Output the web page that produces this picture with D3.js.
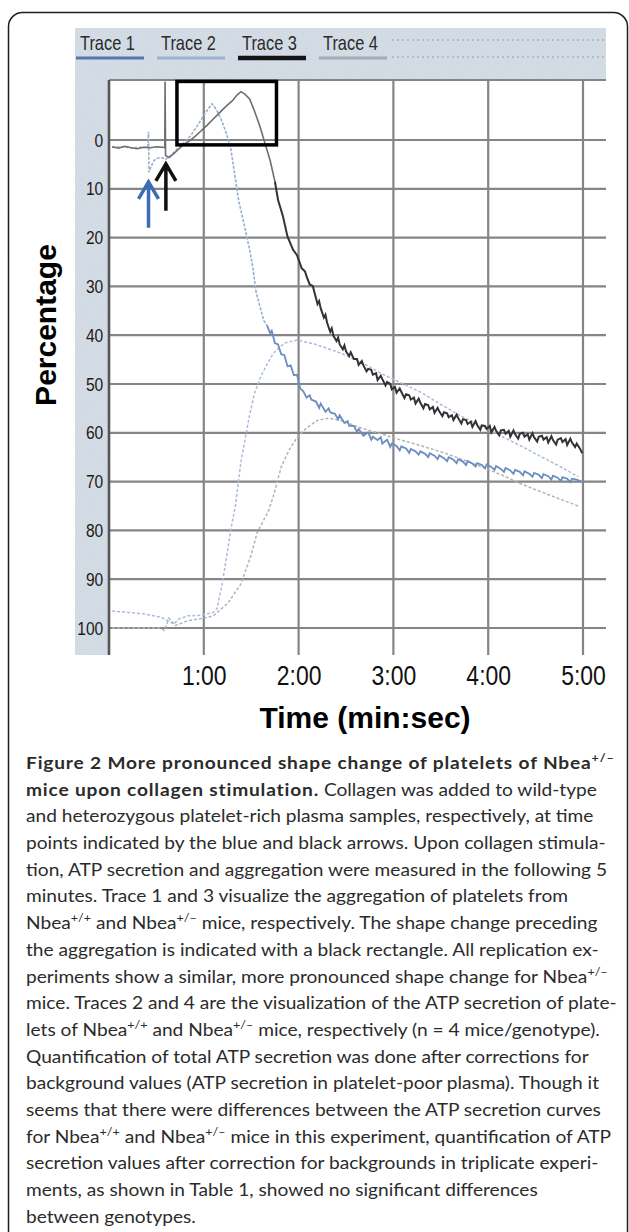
<!DOCTYPE html>
<html>
<head>
<meta charset="utf-8">
<script src="https://cdn.jsdelivr.net/npm/d3@7"></script>
<style>
  body { margin: 0; background: #fff; }
  svg { display: block; }
</style>
</head>
<body>
<div id="fig"></div>
<script>
// values: time in seconds, percentage (0 at top, 100 at bottom)
var traceNames = ["Trace 1", "Trace 2", "Trace 3", "Trace 4"];
var yTicks = [0, 10, 20, 30, 40, 50, 60, 70, 80, 90, 100];
var xTicks = [60, 120, 180, 240, 300];
var xTickLabels = ["1:00", "2:00", "3:00", "4:00", "5:00"];

// Trace 1: aggregation Nbea+/+
var trace1 = [[2,1.5],[8,1.4],[14,1.6],[20,1.5],[24.6,1.5],[25,-1.7],[25.3,6.6],[26.5,5.6],[28,4.4],[30,3.8],[33,3.6],[36,3.9],[39,3.2],[42,2.2],[45,1.2],[48,0.4],[52,-1.0],[56,-3.0],[60,-5.0],[63,-6.5],[65.3,-7.4],[68,-6.2],[71,-4.2],[74,-1.6],[77,1.6],[80,8],[82,12.3],[86,18],[89,22.5],[91,26],[93,31],[95,33.5],[98,37],[100,38],[102,39.6],[103,39.1],[105,41.6],[107,41.9],[109,43.9],[111,44.1],[113,46.4],[115,46.2],[117,48.2],[119,48.1],[120,49.6],[121,50.9],[123,51.5],[125,52.8],[127,52.3],[128,53.2],[131,53.6],[133,54.9],[134,54.0],[137,55.7],[139,55.0],[140,55.8],[143,56.1],[145,57.2],[146,56.4],[149,58.0],[151,57.6],[152,58.6],[155,58.6],[157,59.8],[158,59.2],[161,60.6],[164,59.9],[166,61.4],[167,60.8],[170,61.5],[172,60.9],[173,62.2],[176,61.4],[178,62.9],[179,62.2],[182,62.7],[184,63.6],[185,62.8],[188,63.2],[190,64.1],[191,63.3],[194,63.8],[196,64.5],[197,63.8],[200,64.3],[202,65.0],[203,64.2],[206,64.7],[208,65.4],[209,64.6],[212,65.2],[214,65.8],[215,65.0],[218,65.5],[220,66.2],[221,65.4],[224,65.9],[226,66.6],[227,65.8],[230,66.3],[232,66.9],[233,66.2],[236,66.6],[238,67.3],[239,66.5],[242,67.0],[244,67.6],[245,66.8],[248,67.4],[250,68.0],[251,67.2],[254,67.7],[256,68.4],[257,67.6],[260,68.0],[262,68.7],[263,67.9],[266,68.4],[268,69.0],[269,68.2],[272,68.6],[274,69.3],[275,68.5],[278,68.9],[280,69.6],[281,68.8],[284,69.2],[286,69.9],[287,69.1],[290,69.4],[292,70.1],[293,69.4],[296,69.6],[299,70.0]];

// Trace 2: ATP secretion Nbea+/+
var trace2 = [[2,96.5],[12,96.8],[22,97.1],[33,97.8],[38,98.6],[41,99.2],[44,98.2],[50,97.5],[58,97.4],[66,96.8],[68.4,96],[71,92],[73.4,87.5],[77,80],[80,75],[83.5,66],[88.6,57],[92,52],[96,48.5],[100,46],[104,43.7],[111,41.6],[119,41],[130,41.8],[147,43.7],[160,45.6],[172,47.8],[185,49.8],[198,51.8],[210,54.2],[223,56.6],[236,58.7],[249,60.8],[262,62.9],[274,65],[286,67],[297,69]];

// Trace 3: aggregation Nbea+/-
var trace3 = [[2,1.4],[6,1.7],[10,1.3],[14,1.6],[18,1.8],[22,1.5],[26,1.6],[30,1.4],[34,1.5],[35.3,1.6],[35.5,-12],[35.8,3.2],[38,3.6],[41,2.8],[44,1.9],[47,1.0],[50,0.4],[54,-0.6],[58,-1.8],[62,-3.0],[66,-4.3],[70,-5.6],[74,-6.9],[78,-8.0],[81,-9.2],[83.5,-9.9],[86,-9.4],[89,-8.4],[92,-6.0],[95.6,-2.7],[99,1.0],[102,4.2],[105,8.5],[107,12.3],[110,15.5],[113,19.8],[116.5,22.5],[119,23.6],[122,26.3],[124,26.9],[125,27.9],[127,29.6],[129,29.9],[130,31.2],[132,33.6],[133,33.0],[134,34.5],[136,36.4],[137,35.8],[138,37.4],[140,39.3],[141,38.6],[142,40.1],[144,41.2],[145,40.5],[146,41.9],[148,42.9],[149,42.1],[150,43.3],[152,44.3],[153,43.5],[155,44.9],[157,44.9],[158,46.1],[160,45.3],[161,46.2],[163,47.4],[164,46.9],[166,47.1],[167,48.1],[169,47.8],[170,49.2],[172,48.3],[173,49.0],[175,50.3],[176,49.6],[178,50.0],[179,51.1],[181,50.6],[182,51.8],[184,50.9],[185,51.6],[187,52.9],[188,52.1],[190,52.3],[191,53.2],[193,52.8],[194,54.0],[196,53.0],[197,53.8],[199,55.0],[200,54.1],[202,54.3],[203,55.2],[205,54.7],[206,55.9],[208,54.9],[209,55.6],[211,56.6],[212,55.8],[214,56.0],[215,56.8],[217,56.4],[218,57.4],[220,56.3],[221,57.0],[223,58.1],[224,57.2],[226,57.4],[227,58.2],[229,57.7],[230,58.8],[232,57.6],[233,58.4],[235,59.4],[236,58.5],[238,58.6],[239,59.2],[241,58.6],[242,59.9],[244,58.8],[245,59.6],[247,60.5],[248,59.5],[250,59.4],[251,60.2],[253,59.6],[254,60.8],[256,59.5],[257,60.3],[259,61.2],[260,60.2],[262,60.0],[263,60.8],[265,60.3],[266,61.4],[268,60.1],[269,60.9],[271,61.8],[272,60.8],[274,60.6],[275,61.4],[277,60.9],[278,62.0],[280,60.7],[281,61.5],[283,62.4],[284,61.4],[286,61.1],[287,61.9],[289,61.3],[290,62.5],[292,61.2],[293,62.0],[295,62.9],[296,62.2],[298,63.2],[299.5,64.2]];

// Trace 4: ATP secretion Nbea+/-
var trace4 = [[2,100],[15,100],[32,100],[35,100.5],[38,98],[42,99.5],[50,98.5],[60,98],[66,97.5],[75,95],[83.5,91],[90,85],[93.7,80.5],[101,76],[104,73],[109,67],[114,63.5],[119,61],[125,59],[131.6,57.5],[139,57],[147,57.5],[159.5,59],[172,60.2],[185,61.5],[198,62.7],[211,64],[224,65.5],[236,67],[249,68.7],[261,70.5],[279,72.8],[297,75]];

// collagen addition arrows: [time, tip %, tail %]
var arrows = [[25, 8.6, 18], [36, 4.9, 14.5]];
// shape change rectangle: [t0, t1, top %, bottom %]
var shapeBox = [43, 106, -12, 1];

var W = 629, H = 1232;
var narrow = "scale(0.82,1)";
var svg = d3.select("#fig").append("svg")
    .attr("width", W)
    .attr("height", H);

svg.append("rect").attr("width", W).attr("height", H).attr("fill", "#fff");

// light speckle for the scanned panel
var defs = svg.append("defs");
var f = defs.append("filter").attr("id", "scan").attr("x", 0).attr("y", 0).attr("width", 1).attr("height", 1);
f.append("feTurbulence").attr("type", "fractalNoise").attr("baseFrequency", 0.9).attr("numOctaves", 1).attr("seed", 3).attr("result", "n");
f.append("feColorMatrix").attr("in", "n").attr("type", "matrix")
    .attr("values", "0 0 0 0 0.55  0 0 0 0 0.6  0 0 0 0 0.66  0 0 0 0.35 0").attr("result", "c");
f.append("feComposite").attr("in", "c").attr("in2", "SourceGraphic").attr("operator", "in").attr("result", "m");
f.append("feMerge").selectAll("feMergeNode").data(["SourceGraphic", "m"]).enter()
    .append("feMergeNode").attr("in", function (d) { return d; });

// figure frame
svg.append("rect")
    .attr("x", 8.5).attr("y", 12.5)
    .attr("width", 619).attr("height", 1280)
    .attr("rx", 14)
    .attr("fill", "none")
    .attr("stroke", "#1e1e1e")
    .attr("stroke-width", 1.5);

// scales
var x = d3.scaleLinear().domain([0, 300]).range([109, 583]);
var y = d3.scaleLinear().domain([0, 100]).range([140, 628]);
var plotLeft = x(0), plotRight = 606, plotTop = 80, plotBottom = 655;

// scanned panel background
svg.append("rect")
    .attr("x", 75).attr("y", 28)
    .attr("width", plotRight - 75).attr("height", plotBottom - 28)
    .attr("fill", "#d6dee7")
    .attr("filter", "url(#scan)");
svg.append("rect")
    .attr("x", plotLeft).attr("y", plotTop)
    .attr("width", plotRight - plotLeft).attr("height", plotBottom - plotTop)
    .attr("fill", "#fff");

// faint dotted rows of the scan beside the legend
[40, 57].forEach(function (yy) {
    svg.append("line")
        .attr("x1", 392).attr("x2", plotRight)
        .attr("y1", yy).attr("y2", yy)
        .attr("stroke", "#aab3bd")
        .attr("stroke-width", 1.5)
        .attr("stroke-dasharray", "2,3");
});

// legend
var legendColors = ["#5578ad", "#9cb2d3", "#141414", "#a3abb4"];
var legendWidths = [3, 3, 4.5, 3];
var lg = svg.append("g");
traceNames.forEach(function (name, i) {
    var lx = 80 + i * 81;
    lg.append("text")
        .attr("transform", "translate(" + lx + ",50) " + narrow)
        .style("font-family", "'Liberation Sans', Arial, sans-serif")
        .style("font-size", "20px")
        .style("fill", "#2a2a2a")
        .text(name);
    lg.append("line")
        .attr("x1", lx - 4).attr("x2", lx + 64)
        .attr("y1", 58).attr("y2", 58)
        .attr("stroke", legendColors[i])
        .attr("stroke-width", legendWidths[i]);
});

// grid
var grid = svg.append("g");
grid.selectAll(".hg")
    .data(yTicks)
    .enter().append("line")
    .attr("x1", plotLeft).attr("x2", plotRight)
    .attr("y1", function (d) { return y(d); })
    .attr("y2", function (d) { return y(d); })
    .attr("stroke", "#858585")
    .attr("stroke-width", 2.2);
grid.append("line")
    .attr("x1", plotLeft).attr("x2", plotRight)
    .attr("y1", plotTop).attr("y2", plotTop)
    .attr("stroke", "#858585").attr("stroke-width", 2.2);
grid.selectAll(".vg")
    .data(xTicks)
    .enter().append("line")
    .attr("x1", function (d) { return x(d); })
    .attr("x2", function (d) { return x(d); })
    .attr("y1", plotTop).attr("y2", plotBottom)
    .attr("stroke", "#858585")
    .attr("stroke-width", 2.2);
grid.append("line")
    .attr("x1", plotLeft).attr("x2", plotLeft)
    .attr("y1", plotTop).attr("y2", plotBottom)
    .attr("stroke", "#555").attr("stroke-width", 2.6);

// axes (labels only)
var yAxis = svg.append("g")
    .attr("transform", "translate(" + plotLeft + ",0)")
    .call(d3.axisLeft(y).tickValues(yTicks).tickSize(0).tickPadding(7));
yAxis.select(".domain").remove();
yAxis.selectAll("text")
    .attr("transform", narrow)
    .style("font-family", "'Liberation Sans', Arial, sans-serif")
    .style("font-size", "19px")
    .style("fill", "#1a1a1a");

var xAxis = svg.append("g")
    .attr("transform", "translate(0," + plotBottom + ")")
    .call(d3.axisBottom(x).tickValues(xTicks)
        .tickFormat(function (d, i) { return xTickLabels[i]; })
        .tickSize(0).tickPadding(10));
xAxis.select(".domain").remove();
xAxis.selectAll("text")
    .attr("transform", narrow)
    .style("font-family", "'Liberation Sans', Arial, sans-serif")
    .style("font-size", "28px")
    .style("fill", "#111");

// axis titles
svg.append("text")
    .attr("transform", "translate(56,325) rotate(-90)")
    .attr("text-anchor", "middle")
    .style("font-family", "'Liberation Sans', Arial, sans-serif")
    .style("font-weight", "bold")
    .style("font-size", "30px")
    .style("fill", "#000")
    .text("Percentage");
svg.append("text")
    .attr("x", 365).attr("y", 728)
    .attr("text-anchor", "middle")
    .style("font-family", "'Liberation Sans', Arial, sans-serif")
    .style("font-weight", "bold")
    .style("font-size", "30px")
    .style("fill", "#000")
    .text("Time (min:sec)");

// traces
var line = d3.line()
    .x(function (d) { return x(d[0]); })
    .y(function (d) { return y(d[1]); });
var traces = svg.append("g");

traces.append("path").datum(trace4)
    .attr("d", line).attr("fill", "none")
    .attr("stroke", "#b0b4b9").attr("stroke-width", 1.5)
    .attr("stroke-dasharray", "3,2");
traces.append("path").datum(trace2)
    .attr("d", line).attr("fill", "none")
    .attr("stroke", "#a9bdd8").attr("stroke-width", 1.5)
    .attr("stroke-dasharray", "3,2");

traces.append("path").datum(trace1.filter(function (d) { return d[0] <= 100; }))
    .attr("d", line).attr("fill", "none")
    .attr("stroke", "#98aecd").attr("stroke-width", 1.6)
    .attr("stroke-dasharray", "3,1.5");
traces.append("path").datum(trace1.filter(function (d) { return d[0] >= 100; }))
    .attr("d", line).attr("fill", "none")
    .attr("stroke", "#6a8dc2").attr("stroke-width", 1.8);

traces.append("path").datum(trace3.filter(function (d) { return d[0] <= 105; }))
    .attr("d", line).attr("fill", "none")
    .attr("stroke", "#6e6e6e").attr("stroke-width", 1.6);
traces.append("path").datum(trace3.filter(function (d) { return d[0] >= 105; }))
    .attr("d", line).attr("fill", "none")
    .attr("stroke", "#333").attr("stroke-width", 2);

// shape change rectangle
svg.append("rect")
    .attr("x", x(shapeBox[0])).attr("y", y(shapeBox[2]))
    .attr("width", x(shapeBox[1]) - x(shapeBox[0]))
    .attr("height", y(shapeBox[3]) - y(shapeBox[2]))
    .attr("fill", "none")
    .attr("stroke", "#000")
    .attr("stroke-width", 3.5);

// collagen arrows
var arrowColors = ["#3c6db4", "#111"];
arrows.forEach(function (a, i) {
    var ax = x(a[0]), tip = y(a[1]), tail = y(a[2]);
    svg.append("path")
        .attr("d", "M" + ax + "," + tail + "V" + tip +
            "M" + (ax - 10) + "," + (tip + 17) + "L" + ax + "," + tip + "L" + (ax + 10) + "," + (tip + 17))
        .attr("fill", "none")
        .attr("stroke", arrowColors[i])
        .attr("stroke-width", 3.5)
        .attr("stroke-linejoin", "miter");
});

// caption
var captionLines = [
    [["b", "Figure 2 More pronounced shape change of platelets of Nbea"], ["bs", "+/\u2013"]],
    [["b", "mice upon collagen stimulation."], ["r", " Collagen was added to wild-type"]],
    [["r", "and heterozygous platelet-rich plasma samples, respectively, at time"]],
    [["r", "points indicated by the blue and black arrows. Upon collagen stimula-"]],
    [["r", "tion, ATP secretion and aggregation were measured in the following 5"]],
    [["r", "minutes. Trace 1 and 3 visualize the aggregation of platelets from"]],
    [["r", "Nbea"], ["s", "+/+"], ["r", " and Nbea"], ["s", "+/\u2013"], ["r", " mice, respectively. The shape change preceding"]],
    [["r", "the aggregation is indicated with a black rectangle. All replication ex-"]],
    [["r", "periments show a similar, more pronounced shape change for Nbea"], ["s", "+/\u2013"]],
    [["r", "mice. Traces 2 and 4 are the visualization of the ATP secretion of plate-"]],
    [["r", "lets of Nbea"], ["s", "+/+"], ["r", " and Nbea"], ["s", "+/\u2013"], ["r", " mice, respectively (n = 4 mice/genotype)."]],
    [["r", "Quantification of total ATP secretion was done after corrections for"]],
    [["r", "background values (ATP secretion in platelet-poor plasma). Though it"]],
    [["r", "seems that there were differences between the ATP secretion curves"]],
    [["r", "for Nbea"], ["s", "+/+"], ["r", " and Nbea"], ["s", "+/\u2013"], ["r", " mice in this experiment, quantification of ATP"]],
    [["r", "secretion values after correction for backgrounds in triplicate experi-"]],
    [["r", "ments, as shown in Table 1, showed no significant differences"]],
    [["r", "between genotypes."]]
];

var cap = svg.append("g");
var capRows = [];
captionLines.forEach(function (segs, i) {
    var t = cap.append("text")
        .attr("x", 0).attr("y", 769 + i * 26.7)
        .style("font-family", "Lato, 'Open Sans', sans-serif")
        .style("font-size", "17.5px")
        .style("fill", "#2b2b2b");
    var raised = false;
    segs.forEach(function (s) {
        var sp = t.append("tspan").text(s[1]);
        if (s[0].charAt(0) === "b") sp.style("font-weight", "bold").style("letter-spacing", "0.75px");
        var sup = s[0].indexOf("s") >= 0;
        if (sup && !raised) { sp.attr("dy", -7).style("font-size", "11.5px"); raised = true; }
        else if (sup) { sp.style("font-size", "11.5px"); }
        else if (raised) { sp.attr("dy", 7); raised = false; }
    });
    capRows.push(t);
});
// fit the caption measure to the printed column width
var ref = capRows[3].node().getComputedTextLength();
var k = 580 / ref;
cap.attr("transform", "translate(26,0) scale(" + k + ",1)");
</script>
</body>
</html>
